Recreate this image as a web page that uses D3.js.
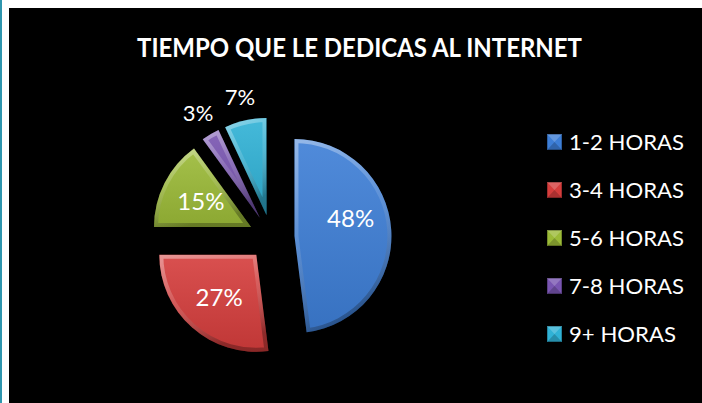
<!doctype html>
<html>
<head>
<meta charset="utf-8">
<title>Tiempo que le dedicas al internet</title>
<script src="https://d3js.org/d3.v7.min.js"></script>
<style>
    body {
        margin: 0;
        background: #ffffff;
    }
    #forChart {
        position: absolute;
        left: 0;
        top: 0;
        width: 702px;
        height: 403px;
    }
    .title {
        font-family: Lato, "Open Sans", sans-serif;
        font-weight: bold;
        font-size: 26px;
        fill: #ffffff;
    }
    .label {
        font-family: Lato, "Open Sans", sans-serif;
        fill: #ffffff;
    }
    .legend-text {
        font-family: Lato, "Open Sans", sans-serif;
        font-size: 21px;
        fill: #ffffff;
    }
</style>
</head>
<body>
<div id="forChart"></div>
<script>

const chartTitle = "TIEMPO QUE LE DEDICAS AL INTERNET";
const categories = ["1-2 HORAS", "3-4 HORAS", "5-6 HORAS", "7-8 HORAS", "9+ HORAS"];
const percents = [48, 27, 15, 3, 7];
const sliceColors = ["#3d7ed6", "#d53d3c", "#9bba37", "#7955b1", "#30b2d6"];

const w = 702;
const h = 403;

// pie geometry
const cx = 271.5;
const cy = 237.5;
const radius = 97;
const explode = 23;

const data = categories.map(function (c, i) {
    return { name: c, value: percents[i], color: sliceColors[i] };
});

const svg = d3.select("#forChart")
    .append("svg")
    .attr("width", w)
    .attr("height", h);

const defs = svg.append("defs");

// bevel gradient: light rim on top, darker rim on bottom
const bevel = defs.append("linearGradient")
    .attr("id", "bevel")
    .attr("x1", 0).attr("y1", 0)
    .attr("x2", 0.3).attr("y2", 1);
bevel.append("stop").attr("offset", "0%").attr("stop-color", "#ffffff").attr("stop-opacity", 0.4);
bevel.append("stop").attr("offset", "50%").attr("stop-color", "#ffffff").attr("stop-opacity", 0.12);
bevel.append("stop").attr("offset", "100%").attr("stop-color", "#000000").attr("stop-opacity", 0.28);

const sheen = defs.append("linearGradient")
    .attr("id", "sheen")
    .attr("x1", 0).attr("y1", 0)
    .attr("x2", 0).attr("y2", 1);
sheen.append("stop").attr("offset", "0%").attr("stop-color", "#ffffff").attr("stop-opacity", 0.1);
sheen.append("stop").attr("offset", "100%").attr("stop-color", "#000000").attr("stop-opacity", 0.1);

// frame
svg.append("rect")
    .attr("x", 0).attr("y", 0)
    .attr("width", 2).attr("height", h)
    .attr("fill", "#2f96ae");

svg.append("rect")
    .attr("x", 9).attr("y", 8)
    .attr("width", w - 9).attr("height", h - 8)
    .attr("fill", "#000000");

svg.append("text")
    .attr("class", "title")
    .attr("x", 359.5)
    .attr("y", 57)
    .attr("text-anchor", "middle")
    .attr("textLength", 445)
    .attr("lengthAdjust", "spacingAndGlyphs")
    .text(chartTitle);

const pie = d3.pie()
    .sort(null)
    .value(function (d) { return d.value; });

const arc = d3.arc()
    .innerRadius(0)
    .outerRadius(radius);

const arcs = pie(data);

function offset(d, dist) {
    const a = (d.startAngle + d.endAngle) / 2;
    return [Math.sin(a) * dist, -Math.cos(a) * dist];
}

const slices = svg.append("g")
    .attr("transform", "translate(" + cx + "," + cy + ")")
    .selectAll("g.slice")
    .data(arcs)
    .enter()
    .append("g")
    .attr("class", "slice")
    .attr("transform", function (d) {
        const o = offset(d, explode);
        return "translate(" + o[0] + "," + o[1] + ")";
    });

slices.append("clipPath")
    .attr("id", function (d, i) { return "clip" + i; })
    .append("path")
    .attr("d", arc);

slices.append("path")
    .attr("d", arc)
    .attr("fill", function (d) { return d.data.color; });

slices.append("path")
    .attr("d", arc)
    .attr("fill", "url(#sheen)");

slices.append("path")
    .attr("d", arc)
    .attr("fill", "none")
    .attr("stroke", "url(#bevel)")
    .attr("stroke-width", 8)
    .attr("stroke-linejoin", "round")
    .attr("clip-path", function (d, i) { return "url(#clip" + i + ")"; });

// labels: inside for big slices, outside for small ones
slices.append("text")
    .attr("class", "label")
    .attr("text-anchor", "middle")
    .attr("dy", "0.36em")
    .attr("font-size", function (d) { return d.data.value < 10 ? 22 : 24; })
    .attr("x", function (d) {
        return offset(d, d.data.value < 10 ? radius * 1.25 : radius * 0.58)[0];
    })
    .attr("y", function (d) {
        const o = offset(d, d.data.value < 10 ? radius * 1.25 : radius * 0.58);
        return d.data.value > 40 ? o[1] - 14 : o[1];
    })
    .text(function (d) { return d.data.value + "%"; });

// legend
const legendY = d3.scalePoint()
    .domain(categories)
    .range([142, 334]);

const legend = svg.append("g")
    .selectAll("g.legend-row")
    .data(data)
    .enter()
    .append("g")
    .attr("class", "legend-row")
    .attr("transform", function (d) {
        return "translate(547," + legendY(d.name) + ")";
    });

legend.append("rect")
    .attr("x", 0).attr("y", -8)
    .attr("width", 15).attr("height", 16)
    .attr("fill", function (d) { return d.color; });

legend.append("path")
    .attr("d", "M0,-8L15,-8L7.5,0Z")
    .attr("fill", "#ffffff")
    .attr("fill-opacity", 0.2);

legend.append("path")
    .attr("d", "M0,8L15,8L7.5,0Z")
    .attr("fill", "#000000")
    .attr("fill-opacity", 0.2);

legend.append("rect")
    .attr("x", 0.5).attr("y", -7.5)
    .attr("width", 14).attr("height", 15)
    .attr("fill", "none")
    .attr("stroke", "#000000")
    .attr("stroke-opacity", 0.25);

legend.append("text")
    .attr("class", "legend-text")
    .attr("x", 22)
    .attr("y", 8)
    .attr("textLength", function (d) { return d.name.length === 8 ? 107 : 115; })
    .attr("lengthAdjust", "spacingAndGlyphs")
    .text(function (d) { return d.name; });

</script>
</body>
</html>
